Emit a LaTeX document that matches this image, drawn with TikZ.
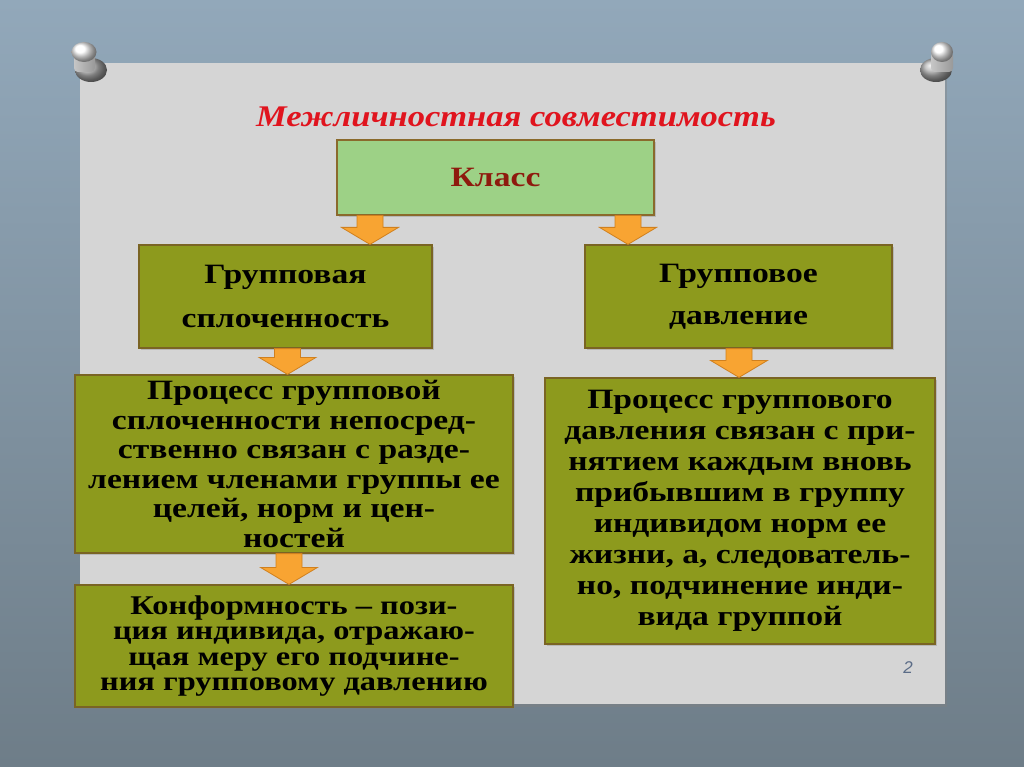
\documentclass[tikz,border=0pt]{standalone}
\usepackage{fontspec}
\setmainfont{Liberation Serif}
\newfontfamily\boxfont[FakeStretch=1.2]{Liberation Serif}
\newfontfamily\titlefont[FakeStretch=1.15]{Liberation Serif}
\newfontfamily\numfont{Liberation Sans}
\usetikzlibrary{shadows,calc}
\definecolor{bgtop}{HTML}{92A8BA}
\definecolor{bgbot}{HTML}{6E7D88}
\definecolor{paper}{HTML}{D5D5D5}
\definecolor{olive}{HTML}{8D9A1D}
\definecolor{olivedraw}{HTML}{7A6424}
\definecolor{lgreen}{HTML}{9DD186}
\definecolor{lgreendraw}{HTML}{8A6A2C}
\definecolor{darkred}{HTML}{8E1A0E}
\definecolor{orng}{HTML}{F8A432}
\definecolor{orngdraw}{HTML}{D0801E}
\definecolor{titlered}{HTML}{E0141E}
\definecolor{numcol}{HTML}{5B6C87}
\tikzset{
  boxbase/.style={line width=1.2pt, align=center, inner sep=0pt,
    drop shadow={opacity=0.35, shadow xshift=2pt, shadow yshift=-2pt}},
  olivebox/.style={boxbase, draw=olivedraw, fill=olive, text=black},
  greenbox/.style={boxbase, draw=lgreendraw, fill=lgreen, text=darkred},
  barrow/.style={fill=orng, draw=orngdraw, line width=0.8pt, line join=miter},
  pinbase/.style={ball color=gray!60},
  pinshank/.style={left color=gray!45, right color=gray!80},
  pinhead/.style={ball color=white},
}
% #1 x position (pt), #2 upper node, #3 lower node
\newcommand\blockarrow[3]{%
  \filldraw[barrow] let \p1=(#2.south), \p2=(#3.north) in
    (#1pt-13pt,\y1) -- (#1pt+13pt,\y1) -- (#1pt+13pt,\y2+17pt) --
    (#1pt+28.5pt,\y2+17pt) -- (#1pt,\y2) -- (#1pt-28.5pt,\y2+17pt) --
    (#1pt-13pt,\y2+17pt) -- cycle;}
\begin{document}
\begin{tikzpicture}[x=1pt,y=-1pt]
\useasboundingbox (0,0) rectangle (1024,767);
% background
\shade[top color=bgtop, bottom color=bgbot] (0,0) rectangle (1024,767);
% paper sheet
\fill[paper, drop shadow={opacity=0.4, shadow xshift=2pt, shadow yshift=-3pt}] (80,63) rectangle (945,704);
% pins
\shade[pinbase] (91,70) ellipse [x radius=16, y radius=12];
\shade[pinshank, rounded corners=4pt] (74,52) rectangle (95,72);
\shade[pinhead] (84,52) ellipse [x radius=12.5, y radius=10];
\shade[pinbase] (936,70) ellipse [x radius=16, y radius=12];
\shade[pinshank, rounded corners=4pt] (931,52) rectangle (953,72);
\shade[pinhead] (942,52) ellipse [x radius=11, y radius=10];
% title
\node[text=titlered, font=\titlefont\bfseries\itshape\fontsize{30}{30}\selectfont] (title) at (516,117) {Межличностная совместимость};
% boxes
\node[greenbox, minimum width=317, minimum height=75,
  font=\boxfont\bfseries\fontsize{28}{28}\selectfont] (klass) at (495.5,177.5) {Класс};
\node[olivebox, minimum width=293, minimum height=103,
  font=\boxfont\bfseries\fontsize{28}{44}\selectfont] (coh) at (285.5,296.5) {Групповая\\сплоченность};
\node[olivebox, minimum width=307, minimum height=103,
  font=\boxfont\bfseries\fontsize{28}{42}\selectfont] (press) at (738.5,296.5) {Групповое\\давление};
\node[olivebox, minimum width=438, minimum height=178,
  font=\boxfont\bfseries\fontsize{28}{29.5}\selectfont] (cohproc) at (294,464)
  {Процесс групповой\\сплоченности непосред-\\ственно связан с разде-\\лением членами группы ее\\целей, норм и цен-\\ностей};
\node[olivebox, minimum width=390, minimum height=266,
  font=\boxfont\bfseries\fontsize{28}{31}\selectfont] (pressproc) at (740,511)
  {Процесс группового\\давления связан с при-\\нятием каждым вновь\\прибывшим в группу\\индивидом норм ее\\жизни, а, следователь-\\но, подчинение инди-\\вида группой};
\node[olivebox, minimum width=438, minimum height=122,
  font=\boxfont\bfseries\fontsize{27}{25.3}\selectfont] (conf) at (294,646)
  {Конформность – пози-\\ция индивида, отражаю-\\щая меру его подчине-\\ния групповому давлению};
% arrows
\blockarrow{370}{klass}{coh}
\blockarrow{628}{klass}{press}
\blockarrow{287.5}{coh}{cohproc}
\blockarrow{739}{press}{pressproc}
\blockarrow{289}{cohproc}{conf}
% page number
\node[text=numcol, font=\numfont\itshape\fontsize{17}{17}\selectfont] (pnum) at (908,668) {2};
\end{tikzpicture}
\end{document}
